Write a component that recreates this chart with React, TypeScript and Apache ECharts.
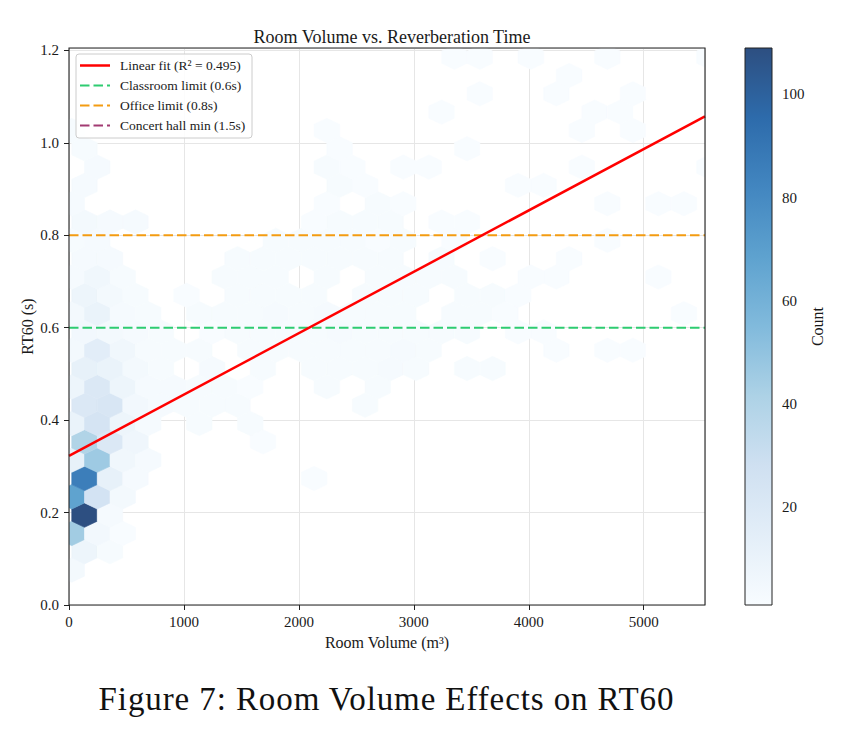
import React, { useEffect, useRef } from "react";
import * as echarts from "echarts";

// ---------- data ----------
const X_MAX = 5533;
const Y_MAX = 1.205;
const xTickStep = 1000;
const yTickStep = 0.2;

// hexbin grid (matplotlib-style: even rows on lattice 1, odd rows shifted by half a cell)
const GRID_XMIN = 23.9;
const HEX_SX = 221.9;
const GRID_YMIN = 0.0756;
const HEX_SY = 0.07925;

// counts per half-row (row 0 = bottom), one entry per column
const hexRows: number[][] = [
  [4, 0, 0, 0, 0, 0, 0, 0, 0, 0, 0, 0, 0, 0, 0, 0, 0, 0, 0, 0, 0, 0, 0, 0, 0, 0],
  [8, 2, 0, 0, 0, 0, 0, 0, 0, 0, 0, 0, 0, 0, 0, 0, 0, 0, 0, 0, 0, 0, 0, 0, 0],
  [45, 5, 1, 0, 0, 0, 0, 0, 0, 0, 0, 0, 0, 0, 0, 0, 0, 0, 0, 0, 0, 0, 0, 0, 0, 0],
  [109, 3, 0, 0, 0, 0, 0, 0, 0, 0, 0, 0, 0, 0, 0, 0, 0, 0, 0, 0, 0, 0, 0, 0, 0],
  [68, 25, 4, 0, 0, 0, 0, 0, 0, 0, 0, 0, 0, 0, 0, 0, 0, 0, 0, 0, 0, 0, 0, 0, 0, 0],
  [86, 12, 3, 0, 0, 0, 0, 0, 0, 1, 0, 0, 0, 0, 0, 0, 0, 0, 0, 0, 0, 0, 0, 0, 0],
  [12, 46, 6, 3, 0, 0, 0, 0, 0, 0, 0, 0, 0, 0, 0, 0, 0, 0, 0, 0, 0, 0, 0, 0, 0, 0],
  [40, 20, 7, 0, 0, 0, 0, 1, 0, 0, 0, 0, 0, 0, 0, 0, 0, 0, 0, 0, 0, 0, 0, 0, 0],
  [10, 24, 8, 3, 0, 2, 0, 2, 0, 0, 0, 0, 0, 0, 0, 0, 0, 0, 0, 0, 0, 0, 0, 0, 0, 0],
  [20, 22, 5, 3, 2, 2, 2, 0, 0, 0, 0, 2, 0, 0, 0, 0, 0, 0, 0, 0, 0, 0, 0, 0, 0],
  [8, 20, 8, 3, 3, 2, 2, 1, 0, 0, 2, 0, 2, 0, 0, 0, 0, 0, 0, 0, 0, 0, 0, 0, 0, 0],
  [12, 10, 4, 2, 0, 3, 0, 2, 0, 2, 2, 2, 3, 2, 0, 2, 2, 0, 0, 0, 0, 0, 0, 0, 0],
  [4, 15, 6, 2, 2, 2, 0, 2, 2, 2, 2, 2, 2, 3, 2, 0, 0, 0, 0, 1, 0, 1, 1, 0, 0, 0],
  [5, 4, 3, 2, 0, 1, 2, 2, 2, 2, 3, 2, 2, 2, 2, 2, 0, 1, 1, 0, 0, 0, 0, 0, 0],
  [4, 10, 3, 2, 0, 2, 2, 2, 3, 2, 3, 2, 2, 2, 0, 2, 2, 1, 0, 0, 0, 0, 0, 0, 1, 0],
  [8, 4, 2, 0, 1, 0, 2, 2, 2, 2, 0, 2, 2, 2, 0, 2, 2, 1, 0, 0, 0, 0, 0, 0, 0],
  [3, 6, 2, 0, 0, 0, 2, 2, 2, 0, 2, 0, 2, 2, 2, 2, 0, 0, 1, 1, 0, 0, 0, 1, 0, 0],
  [3, 3, 0, 0, 0, 0, 2, 2, 2, 2, 2, 2, 2, 0, 2, 0, 1, 0, 0, 1, 0, 0, 0, 0, 0],
  [2, 3, 0, 0, 0, 0, 0, 0, 2, 2, 2, 2, 1, 2, 0, 1, 0, 0, 0, 0, 0, 1, 0, 0, 0, 0],
  [4, 3, 3, 0, 0, 0, 0, 0, 0, 1, 2, 2, 2, 0, 1, 1, 0, 0, 0, 0, 0, 0, 0, 0, 0],
  [3, 0, 0, 0, 0, 0, 0, 0, 0, 0, 1, 0, 2, 1, 0, 0, 0, 0, 0, 0, 0, 1, 0, 1, 1, 0],
  [3, 0, 0, 0, 0, 0, 0, 0, 0, 0, 2, 1, 0, 0, 0, 0, 0, 1, 1, 0, 0, 0, 0, 0, 0],
  [0, 3, 0, 0, 0, 0, 0, 0, 0, 0, 2, 1, 0, 1, 1, 0, 0, 0, 0, 0, 1, 0, 0, 0, 0, 1],
  [2, 0, 0, 0, 0, 0, 0, 0, 0, 0, 1, 0, 0, 0, 0, 1, 0, 0, 0, 0, 0, 0, 0, 0, 0],
  [2, 0, 0, 0, 0, 0, 0, 0, 0, 0, 1, 0, 0, 0, 0, 0, 0, 0, 0, 0, 1, 0, 1, 0, 0, 0],
  [0, 0, 0, 0, 0, 0, 0, 0, 0, 0, 0, 0, 0, 0, 1, 0, 0, 0, 0, 0, 1, 1, 0, 0, 0],
  [0, 0, 0, 0, 0, 0, 0, 0, 0, 0, 0, 0, 0, 0, 0, 0, 1, 0, 0, 1, 0, 0, 1, 0, 0, 0],
  [0, 0, 0, 0, 0, 0, 0, 0, 0, 0, 0, 0, 0, 0, 0, 0, 0, 0, 0, 1, 0, 0, 0, 0, 0],
  [0, 0, 0, 0, 0, 0, 0, 0, 0, 0, 0, 0, 0, 0, 0, 1, 1, 0, 1, 0, 0, 1, 0, 0, 0, 1],
];

// linear fit
const fitSlope = 0.0001328;
const fitIntercept = 0.3225;
const fitLabel = "Linear fit (R\u00b2 = 0.495)";

// reference levels
const refNames = ["Classroom limit (0.6s)", "Office limit (0.8s)", "Concert hall min (1.5s)"];
const refLevels = [0.6, 0.8, 1.5];
const refColors = ["#2ecc71", "#f39c12", "#a23b72"];

// colour bar
const COUNT_MIN = 1;
const COUNT_MAX = 109;
const countTicks = [20, 40, 60, 80, 100];
const BLUES = ["#f7fbff", "#deebf7", "#c6dbef", "#9ecae1", "#6baed6", "#4292c6", "#2171b5", "#08519c", "#08306b"];
const HEX_ALPHA = 0.85;

// ---------- helpers ----------
const FONT = '"Liberation Serif", "Times New Roman", serif';
const TXT = "#1a1a1a";
const DASH = [9.5, 4];

function blend(hex: string, a: number) {
  const r = parseInt(hex.slice(1, 3), 16);
  const g = parseInt(hex.slice(3, 5), 16);
  const b = parseInt(hex.slice(5, 7), 16);
  const m = (v: number) => Math.round(v * a + 255 * (1 - a));
  return `rgb(${m(r)},${m(g)},${m(b)})`;
}
const blendedBlues = BLUES.map((c) => blend(c, HEX_ALPHA));

const hexData: number[][] = [];
hexRows.forEach((row, r) => {
  const shift = r % 2 === 1 ? 0.5 : 0;
  row.forEach((count, c) => {
    if (count > 0) {
      hexData.push([GRID_XMIN + (c + shift) * HEX_SX, GRID_YMIN + (r * HEX_SY) / 2, count]);
    }
  });
});

const GRID = { left: 69, top: 48, width: 636, height: 557 };
const CB = { left: 745, top: 48, width: 27, height: 557 };

export default function App() {
  const ref = useRef<HTMLDivElement>(null);
  useEffect(() => {
    const chart = echarts.init(ref.current!, null, { renderer: "svg" });

    const legendX = 76;
    const legendY = 54;
    const rowH = 20;
    const LZ = 110;
    const legendItems = [
      { name: fitLabel, color: "#ff0000", dash: null as number[] | null, width: 2.5 },
      ...refNames.map((n, i) => ({ name: n, color: refColors[i], dash: DASH, width: 2 })),
    ];
    const legendChildren: any[] = [
      {
        type: "rect",
        z: LZ,
        shape: { x: legendX, y: legendY, width: 176, height: 84, r: 3 },
        style: { fill: "rgba(255,255,255,0.85)", stroke: "#cccccc", lineWidth: 1 },
      },
    ];
    legendItems.forEach((it, i) => {
      const y = legendY + 11.5 + i * rowH;
      legendChildren.push({
        type: "line",
        z: LZ + 1,
        shape: { x1: legendX + 4, y1: y, x2: legendX + 34, y2: y },
        style: { stroke: it.color, lineWidth: it.width, lineDash: it.dash || undefined },
      });
      legendChildren.push({
        type: "text",
        z: LZ + 1,
        x: legendX + 44,
        y: y,
        style: { text: it.name, fontFamily: FONT, fontSize: 13.5, fill: TXT, verticalAlign: "middle", align: "left" },
      });
    });

    const stops = blendedBlues.map((c, i) => ({ offset: i / (blendedBlues.length - 1), color: c }));

    const option: any = {
      animation: false,
      backgroundColor: "#ffffff",
      title: {
        text: "Room Volume vs. Reverberation Time",
        left: GRID.left + GRID.width / 2,
        textAlign: "center",
        top: 23,
        textStyle: { fontFamily: FONT, fontSize: 18, fontWeight: "normal", color: TXT },
      },
      grid: [
        { left: GRID.left, top: GRID.top, width: GRID.width, height: GRID.height, containLabel: false },
        { left: CB.left, top: CB.top, width: CB.width, height: CB.height, containLabel: false },
      ],
      xAxis: [
        {
          type: "value",
          gridIndex: 0,
          min: 0,
          max: X_MAX,
          interval: xTickStep,
          name: "Room Volume (m\u00b3)",
          nameLocation: "middle",
          nameGap: 29,
          nameMoveOverlap: false,
          nameTextStyle: { fontFamily: FONT, fontSize: 16, color: TXT },
          axisLine: { show: false },
          axisTick: { show: true, length: 5, inside: false, lineStyle: { color: "#222", width: 1 } },
          axisLabel: {
            fontFamily: FONT,
            fontSize: 15,
            color: TXT,
            margin: 9,
            showMaxLabel: false,
            formatter: (v: number) => String(v),
          },
          splitLine: { show: true, lineStyle: { color: "#e6e6e6", width: 1 } },
        },
        { type: "value", gridIndex: 1, min: 0, max: 1, show: false },
      ],
      yAxis: [
        {
          type: "value",
          gridIndex: 0,
          min: 0,
          max: Y_MAX,
          interval: yTickStep,
          name: "RT60 (s)",
          nameLocation: "middle",
          nameGap: 34,
          nameMoveOverlap: false,
          nameRotate: 90,
          nameTextStyle: { fontFamily: FONT, fontSize: 16, color: TXT },
          axisLine: { show: false },
          axisTick: { show: true, length: 5, inside: false, lineStyle: { color: "#222", width: 1 } },
          axisLabel: {
            fontFamily: FONT,
            fontSize: 15,
            color: TXT,
            margin: 10,
            showMaxLabel: false,
            formatter: (v: number) => v.toFixed(1),
          },
          splitLine: { show: true, lineStyle: { color: "#e6e6e6", width: 1 } },
        },
        {
          type: "value",
          gridIndex: 1,
          min: COUNT_MIN,
          max: COUNT_MAX,
          position: "right",
          name: "Count",
          nameLocation: "middle",
          nameRotate: 90,
          nameGap: 37,
          nameTextStyle: { fontFamily: FONT, fontSize: 16, color: TXT },
          axisLine: { show: false },
          axisTick: { show: true, length: 5, inside: false, customValues: countTicks, lineStyle: { color: "#222", width: 1 } },
          axisLabel: { fontFamily: FONT, fontSize: 15, color: TXT, margin: 10, customValues: countTicks },
          splitLine: { show: false },
        },
      ],
      visualMap: {
        type: "continuous",
        show: false,
        min: COUNT_MIN,
        max: COUNT_MAX,
        dimension: 2,
        seriesIndex: 0,
        inRange: { color: blendedBlues },
      },
      series: [
        {
          type: "custom",
          name: "hexbin",
          xAxisIndex: 0,
          yAxisIndex: 0,
          clip: true,
          z: 2,
          data: hexData,
          encode: { x: 0, y: 1 },
          renderItem: (params: any, api: any) => {
            const c = api.coord([api.value(0), api.value(1)]);
            const s = api.size([HEX_SX, HEX_SY]);
            const w = s[0] / 2;
            const h = s[1] / 3;
            const pts = [
              [c[0] + w, c[1] + h / 2],
              [c[0] + w, c[1] - h / 2],
              [c[0], c[1] - h],
              [c[0] - w, c[1] - h / 2],
              [c[0] - w, c[1] + h / 2],
              [c[0], c[1] + h],
            ];
            const col = api.visual("color");
            return { type: "polygon", shape: { points: pts }, style: { fill: col, stroke: col, lineWidth: 0.6 } };
          },
        },
        {
          type: "line",
          name: fitLabel,
          xAxisIndex: 0,
          yAxisIndex: 0,
          z: 4,
          showSymbol: false,
          symbol: "none",
          lineStyle: { color: "#ff0000", width: 2.5 },
          data: [
            [0, fitIntercept],
            [X_MAX, fitIntercept + fitSlope * X_MAX],
          ],
        },
        ...refLevels.map((lv, i) => ({
          type: "line",
          name: refNames[i],
          xAxisIndex: 0,
          yAxisIndex: 0,
          z: 3,
          clip: true,
          showSymbol: false,
          symbol: "none",
          lineStyle: { color: refColors[i], width: 2, type: DASH },
          data: [
            [0, lv],
            [X_MAX, lv],
          ],
        })),
        {
          type: "custom",
          name: "colorbar",
          xAxisIndex: 1,
          yAxisIndex: 1,
          data: [[0, COUNT_MIN]],
          renderItem: (params: any, api: any) => {
            const p0 = api.coord([0, COUNT_MIN]);
            const p1 = api.coord([1, COUNT_MAX]);
            return {
              type: "rect",
              shape: { x: p0[0], y: p1[1], width: p1[0] - p0[0], height: p0[1] - p1[1] },
              style: {
                fill: new echarts.graphic.LinearGradient(0, 1, 0, 0, stops),
                stroke: "#222",
                lineWidth: 1,
              },
            };
          },
        },
      ],
      graphic: [
        {
          type: "rect",
          z: 100,
          silent: true,
          shape: { x: GRID.left, y: GRID.top, width: GRID.width, height: GRID.height },
          style: { fill: "none", stroke: "#222", lineWidth: 1.1 },
        },
        { type: "group", silent: true, children: legendChildren },
      ],
    };

    chart.setOption(option);
    return () => chart.dispose();
  }, []);

  return (
    <div style={{ position: "absolute", left: 0, top: 0, width: 847, height: 735, background: "#fff" }}>
      <div ref={ref} style={{ position: "absolute", left: 0, top: 0, width: 847, height: 735 }} />
      <div
        style={{
          position: "absolute",
          left: 0,
          top: 683,
          width: 773,
          textAlign: "center",
          fontFamily: FONT,
          fontSize: 33,
          lineHeight: 1,
          letterSpacing: "0.9px",
          color: "#111",
          whiteSpace: "nowrap",
        }}
      >
        Figure 7: Room Volume Effects on RT60
      </div>
    </div>
  );
}
